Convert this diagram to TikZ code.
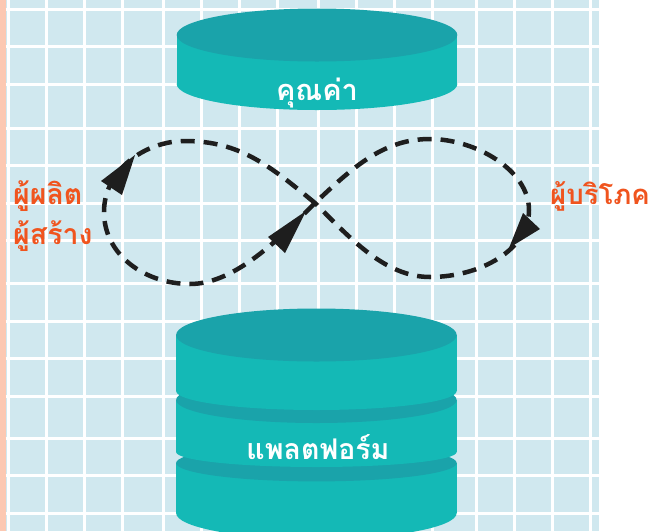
\documentclass[tikz,border=0pt]{standalone}
\usepackage{fontspec}
\newfontfamily\thaifont[Script=Thai]{Loma}
\definecolor{bgblue}{RGB}{208,232,239}
\definecolor{peach}{RGB}{252,200,178}
\definecolor{tealtop}{RGB}{26,163,170}
\definecolor{tealside}{RGB}{20,185,182}
\definecolor{orangetxt}{RGB}{240,84,30}
\definecolor{loopblack}{RGB}{30,30,30}
\tikzset{
  gridline/.style={white,line width=3pt},
  loopline/.style={loopblack,line width=4.5pt,dash pattern=on 14pt off 9pt},
  arrowhead/.style={fill=loopblack},
  sidefill/.style={fill=tealside},
  topfill/.style={fill=tealtop},
  toplabel/.style={font=\thaifont\bfseries\fontsize{29}{29}\selectfont,text=white,inner sep=0pt,anchor=base},
  sidelabel/.style={font=\thaifont\bfseries\fontsize{28.5}{28.5}\selectfont,text=orangetxt,inner sep=0pt,anchor=base west},
}
\begin{document}
\begin{tikzpicture}[x=1pt,y=-1pt]
\useasboundingbox (0,0) rectangle (662,531);
\fill[white] (0,0) rectangle (662,531);
\fill[peach] (0,0) rectangle (5.5,531);
\fill[bgblue] (5.5,0) rectangle (599.3,531);
\foreach \x in {8.7,46.3,84.7,122.5,163.5,201.3,239.5,277.5,318.5,356.5,394.5,432.5,476.8,514.5,552.5,590.8}
  \draw[gridline] (\x,0) -- (\x,531);
\foreach \y in {9.3,46.7,84.7,128,165.5,203,240.5,283.5,321,358.5,396,438,475.5,513.5}
  \draw[gridline] (5.5,\y) -- (599.3,\y);
% top cylinder
\fill[sidefill] (176.7,35) rectangle (457.3,84);
\fill[sidefill] (317,84) ellipse[x radius=140.3,y radius=26];
\fill[topfill] (317,35) ellipse[x radius=140.3,y radius=26.5];
% bottom stacked cylinder
\fill[sidefill] (176.1,463) rectangle (456.7,513);
\fill[sidefill] (316.4,513) ellipse[x radius=140.3,y radius=26];
\fill[topfill] (316.4,463) ellipse[x radius=140.3,y radius=18.4];
\fill[sidefill] (176.1,400) rectangle (456.7,452);
\fill[sidefill] (316.4,452) ellipse[x radius=140.3,y radius=15];
\fill[topfill] (316.4,400) ellipse[x radius=140.3,y radius=23];
\fill[sidefill] (176.1,335) rectangle (456.7,391);
\fill[sidefill] (316.4,391) ellipse[x radius=140.3,y radius=19];
\fill[topfill] (316.4,335) ellipse[x radius=140.3,y radius=26.5];
% labels in cylinders
\node[toplabel] (val) at (317,100) {คุณค่า};
\node[toplabel,font=\thaifont\bfseries\fontsize{28.5}{28.5}\selectfont] (plat) at (318,459) {แพลตฟอร์ม};
% infinity loop
\coordinate (C) at (315,203);
\coordinate (TL) at (185,141);
\coordinate (L) at (104,212);
\coordinate (BL) at (190,284);
\coordinate (TR) at (430,139);
\coordinate (R) at (529,210);
\coordinate (BR) at (430,277);
\draw[loopline] (C) .. controls (270,166) and (240,141) .. (TL)
  .. controls (145,141) and (104,170) .. (L)
  .. controls (104,255) and (145,284) .. (BL)
  .. controls (235,284) and (280,238) .. (C)
  .. controls (355,165) and (385,139) .. (TR)
  .. controls (475,139) and (529,170) .. (R)
  .. controls (529,250) and (480,277) .. (BR)
  .. controls (385,277) and (350,238) .. (C);
\fill[arrowhead] (135,155) -- (101,181) -- (122,195) -- cycle;
\fill[arrowhead] (306,211) -- (268,237) -- (285,253) -- cycle;
\fill[arrowhead] (509,248) -- (523,213) -- (540,229) -- cycle;
% side labels
\node[sidelabel] (prod) at (13,204) {ผู้ผลิต};
\node[sidelabel] (crea) at (13,244) {ผู้สร้าง};
\node[sidelabel,font=\thaifont\bfseries\fontsize{27.5}{27.5}\selectfont] (cons) at (550,204) {ผู้บริโภค};
\end{tikzpicture}
\end{document}
